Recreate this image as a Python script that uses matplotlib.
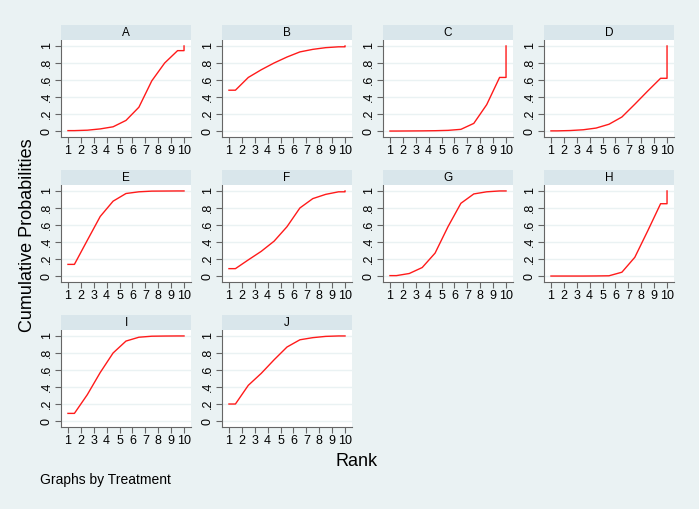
import matplotlib
matplotlib.use("Agg")
import matplotlib.pyplot as plt

plt.rcParams['font.family'] = ['Liberation Sans', 'DejaVu Sans']

ranks = [1, 2, 3, 4, 5, 6, 7, 8, 9, 10]
treatments = ["A", "B", "C", "D", "E", "F", "G", "H", "I", "J"]

cum_A = [0.005, 0.01, 0.025, 0.05, 0.125, 0.28, 0.59, 0.80, 0.945, 1.0]
cum_B = [0.48, 0.63, 0.72, 0.80, 0.87, 0.93, 0.96, 0.98, 0.99, 1.0]
cum_C = [0.0, 0.001, 0.002, 0.004, 0.008, 0.02, 0.09, 0.31, 0.63, 1.0]
cum_D = [0.002, 0.006, 0.015, 0.035, 0.08, 0.165, 0.315, 0.47, 0.62, 1.0]
cum_E = [0.137, 0.42, 0.70, 0.88, 0.97, 0.99, 0.998, 0.999, 1.0, 1.0]
cum_F = [0.087, 0.19, 0.29, 0.41, 0.58, 0.80, 0.91, 0.96, 0.99, 1.0]
cum_G = [0.005, 0.03, 0.10, 0.27, 0.58, 0.855, 0.965, 0.99, 1.0, 1.0]
cum_H = [0.0, 0.0, 0.0, 0.001, 0.003, 0.045, 0.22, 0.53, 0.85, 1.0]
cum_I = [0.09, 0.31, 0.57, 0.80, 0.94, 0.985, 0.997, 0.999, 1.0, 1.0]
cum_J = [0.20, 0.42, 0.56, 0.72, 0.87, 0.955, 0.98, 0.995, 1.0, 1.0]

series = [cum_A, cum_B, cum_C, cum_D, cum_E, cum_F, cum_G, cum_H, cum_I, cum_J]

ytick_vals = [0, 0.2, 0.4, 0.6, 0.8, 1]
ytick_labels = ["0", ".2", ".4", ".6", ".8", "1"]

W, H = 699, 509
BG = "#EAF2F3"
STRIP = "#D9E6EB"
fig = plt.figure(figsize=(W / 100, H / 100), dpi=100, facecolor=BG)

col_left = [61, 222, 383, 544]
row_top = [40, 185, 330]
pw, ph, sh = 130, 97, 15

for i, (name, vals) in enumerate(zip(treatments, series)):
    r, c = divmod(i, 4)
    x0 = col_left[c]
    y0 = row_top[r]
    ax = fig.add_axes([x0 / W, 1 - (y0 + ph) / H, pw / W, ph / H])
    ax.set_facecolor("white")
    # Stata-style step connection between rank midpoints
    xs = [ranks[0]] + [rk + 0.5 for rk in ranks[:-1]] + [ranks[-1], ranks[-1]]
    ys = [vals[0]] + vals[:-1] + [vals[-2], vals[-1]]
    ax.plot(xs, ys, color="#FF1A1A", lw=1.0)
    ax.set_xlim(0.46, 10.54)
    ax.set_ylim(-0.07, 1.07)
    ax.set_yticks(ytick_vals)
    ax.set_yticklabels(ytick_labels, rotation=90, va="center")
    ax.set_xticks(ranks)
    ax.set_xticklabels([str(v) for v in ranks])
    ax.grid(axis="y", color=BG, lw=1.0)
    ax.set_axisbelow(True)
    for s in ["top", "right"]:
        ax.spines[s].set_visible(False)
    for s in ["left", "bottom"]:
        ax.spines[s].set_color("#666666")
        ax.spines[s].set_linewidth(0.8)
    ax.tick_params(axis="both", length=4, width=0.8, color="#666666",
                   labelsize=9, pad=2)
    # strip header
    sax = fig.add_axes([x0 / W, 1 - y0 / H, pw / W, sh / H])
    sax.set_facecolor(STRIP)
    sax.set_xticks([])
    sax.set_yticks([])
    for s in sax.spines.values():
        s.set_visible(False)
    sax.text(0.5, 0.45, name, ha="center", va="center", fontsize=8.5,
             transform=sax.transAxes)

fig.text(27 / W, 1 - 235 / H, "Cumulative Probabilities", rotation=90,
         ha="center", va="center", fontsize=13)
fig.text(357 / W, 1 - 461 / H, "Rank", ha="center", va="center", fontsize=13)
fig.text(40 / W, 1 - 480 / H, "Graphs by Treatment", ha="left", va="center",
         fontsize=10)

fig.savefig("out.png", dpi=100, facecolor=BG)
